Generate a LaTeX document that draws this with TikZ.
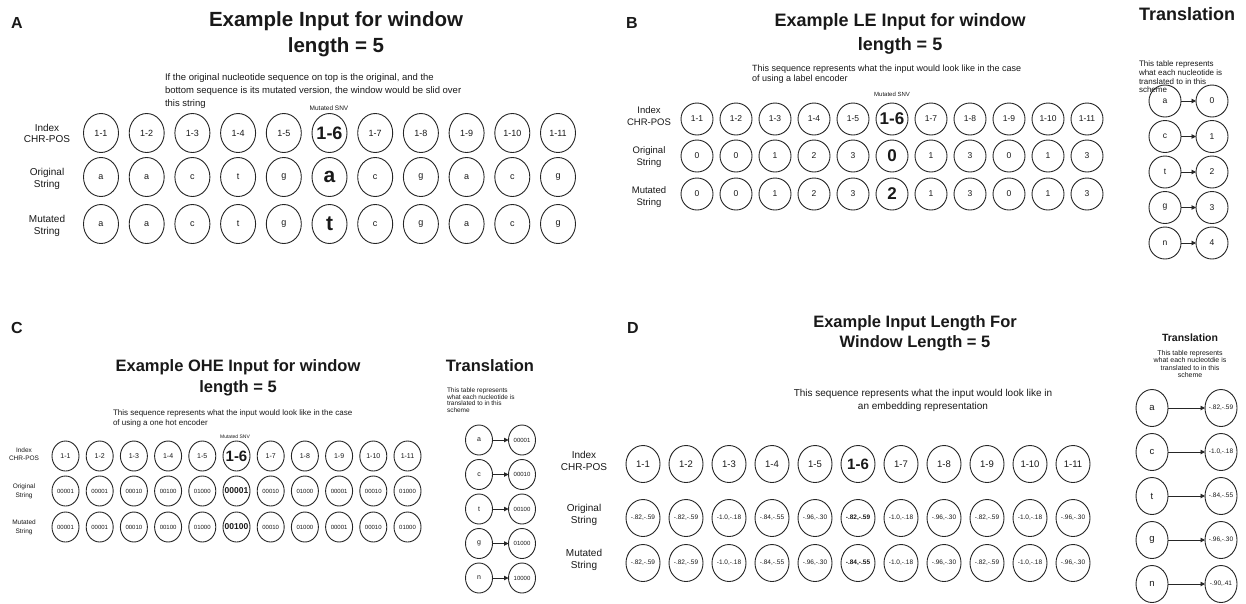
\documentclass[tikz,border=0pt]{standalone}
\usepackage{fontspec}
\setmainfont{Liberation Sans}
\usetikzlibrary{shapes.geometric,arrows.meta}
\newcommand\fsz[1]{\fontsize{#1}{#1}\selectfont}
\newcommand\bz[2]{{\bfseries\fsz{#1}#2}}
\begin{document}
\begin{tikzpicture}[x=1pt,y=-1pt,
  every node/.style={inner sep=0pt,outer sep=0pt,text=black!90},
  panel/.style={font=\bfseries\fsz{16},anchor=base},
  ttl/.style={anchor=base,font=\bfseries\fsz{#1}},
  txt/.style={anchor=base west,font=\fsz{#1}},
  ctxt/.style={anchor=base,font=\fsz{#1}},
  cell/.style={ellipse,draw=black!85,line width=0.9pt},
  cA/.style={cell,minimum width=35pt,minimum height=39pt,font=\fsz{9}},
  cB/.style={cell,minimum width=32pt,minimum height=32pt,font=\fsz{8.5}},
  cC/.style={cell,minimum width=27pt,minimum height=30pt,font=\fsz{6}},
  cCi/.style={cell,minimum width=27pt,minimum height=30pt,font=\fsz{7}},
  cD/.style={cell,minimum width=34pt,minimum height=37pt,font=\fsz{9.5}},
  cDv/.style={cell,minimum width=34pt,minimum height=37pt,font=\fsz{6.5}},
  tD/.style={cell,minimum width=32pt,minimum height=37pt,font=\fsz{9.5}},
  tDv/.style={cell,minimum width=32pt,minimum height=37pt,font=\fsz{6.5}},
  arr/.style={draw=black!85,line width=0.9pt,-{Triangle[length=4.5pt,width=4.5pt]}},
]
\useasboundingbox (0,0) rectangle (1246,603);
\fill[white] (0,0) rectangle (1246,603);

% ---------------- Panel A ----------------
\node[panel] (lblA) at (17,28) {A};
\node[ttl=20.5] (tA1) at (336,26) {Example Input for window};
\node[ttl=20.5] (tA2) at (336,52) {length = 5};
\node[txt=9.5] (dA1) at (165,80) {If the original nucleotide sequence on top is the original, and the};
\node[txt=9.5] (dA2) at (165,93) {bottom sequence is its mutated version, the window would be slid over};
\node[txt=9.5] (dA3) at (165,106) {this string};
\node[ctxt=6.5] (sA) at (329,110.5) {Mutated SNV};
\node[ctxt=10] (rA1a) at (47,131) {Index};
\node[ctxt=10] (rA1b) at (47,142.5) {CHR-POS};
\node[ctxt=10] (rA2a) at (47,175.5) {Original};
\node[ctxt=10] (rA2b) at (47,187) {String};
\node[ctxt=10] (rA3a) at (47,222.5) {Mutated};
\node[ctxt=10] (rA3b) at (47,234) {String};
\foreach \t [count=\k] in {1-1,1-2,1-3,1-4,1-5,\bz{18}{1-6},1-7,1-8,1-9,1-10,1-11}
  \node[cA] (Ai\k) at ({101+45.7*(\k-1)},133) {\makebox[0pt]{\t}};
\foreach \t [count=\k] in {a,a,c,t,g,\bz{21}{a},c,g,a,c,g}
  \node[cA] (Ao\k) at ({101+45.7*(\k-1)},177) {\makebox[0pt]{\t}};
\foreach \t [count=\k] in {a,a,c,t,g,\bz{21}{t},c,g,a,c,g}
  \node[cA] (Am\k) at ({101+45.7*(\k-1)},224) {\makebox[0pt]{\t}};

% ---------------- Panel B ----------------
\node[panel] (lblB) at (632,28) {B};
\node[ttl=18] (tB1) at (900,26) {Example LE Input for window};
\node[ttl=18] (tB2) at (900,50) {length = 5};
\node[txt=9] (dB1) at (752,71) {This sequence represents what the input would look like in the case};
\node[txt=9] (dB2) at (752,81.5) {of using a label encoder};
\node[ctxt=6] (sB) at (892,96.5) {Mutated SNV};
\node[ctxt=9.5] (rB1a) at (649,113.5) {Index};
\node[ctxt=9.5] (rB1b) at (649,125.5) {CHR-POS};
\node[ctxt=9.5] (rB2a) at (649,153.5) {Original};
\node[ctxt=9.5] (rB2b) at (649,165.5) {String};
\node[ctxt=9.5] (rB3a) at (649,193.5) {Mutated};
\node[ctxt=9.5] (rB3b) at (649,205.5) {String};
\foreach \t [count=\k] in {1-1,1-2,1-3,1-4,1-5,\bz{17}{1-6},1-7,1-8,1-9,1-10,1-11}
  \node[cB] (Bi\k) at ({697+39*(\k-1)},119) {\makebox[0pt]{\t}};
\foreach \t [count=\k] in {0,0,1,2,3,\bz{17}{0},1,3,0,1,3}
  \node[cB] (Bo\k) at ({697+39*(\k-1)},156) {\makebox[0pt]{\t}};
\foreach \t [count=\k] in {0,0,1,2,3,\bz{17}{2},1,3,0,1,3}
  \node[cB] (Bm\k) at ({697+39*(\k-1)},194) {\makebox[0pt]{\t}};
\node[ttl=18] (trB) at (1187,20) {Translation};
\node[txt=8] (tdB1) at (1139,66) {This table represents};
\node[txt=8] (tdB2) at (1139,75) {what each nucleotide is};
\node[txt=8] (tdB3) at (1139,84) {translated to in this};
\node[txt=8] (tdB4) at (1139,92.5) {scheme};
\foreach \a/\b [count=\k] in {a/0,c/1,t/2,g/3,n/4}{
  \node[cB] (BLa\k) at (1165,{101+35.5*(\k-1)}) {\makebox[0pt]{\a}};
  \node[cB] (BLb\k) at (1212,{101+35.5*(\k-1)}) {\makebox[0pt]{\b}};
  \draw[arr] (BLa\k) -- (BLb\k);
}

% ---------------- Panel C ----------------
\node[panel] (lblC) at (17,333) {C};
\node[ttl=16.5] (tC1) at (238,371) {Example OHE Input for window};
\node[ttl=16.5] (tC2) at (238,392) {length = 5};
\node[txt=8] (dC1) at (113,415) {This sequence represents what the input would look like in the case};
\node[txt=8] (dC2) at (113,425.5) {of using a one hot encoder};
\node[ctxt=5] (sC) at (235,438.5) {Mutated SNV};
\node[ctxt=6.5] (rC1a) at (24,452) {Index};
\node[ctxt=6.5] (rC1b) at (24,460.5) {CHR-POS};
\node[ctxt=6.5] (rC2a) at (24,488.5) {Original};
\node[ctxt=6.5] (rC2b) at (24,497.5) {String};
\node[ctxt=6.5] (rC3a) at (24,524.5) {Mutated};
\node[ctxt=6.5] (rC3b) at (24,533.5) {String};
\foreach \t [count=\k] in {1-1,1-2,1-3,1-4,1-5,\bz{15}{1-6},1-7,1-8,1-9,1-10,1-11}
  \node[cCi] (Ci\k) at ({65.5+34.2*(\k-1)},456) {\makebox[0pt]{\t}};
\foreach \t [count=\k] in {00001,00001,00010,00100,01000,\bz{8.5}{00001},00010,01000,00001,00010,01000}
  \node[cC] (Co\k) at ({65.5+34.2*(\k-1)},491) {\makebox[0pt]{\t}};
\foreach \t [count=\k] in {00001,00001,00010,00100,01000,\bz{8.5}{00100},00010,01000,00001,00010,01000}
  \node[cC] (Cm\k) at ({65.5+34.2*(\k-1)},527) {\makebox[0pt]{\t}};
\node[ttl=16.5] (trC) at (490,371) {Translation};
\node[txt=6.5] (tdC1) at (447,392) {This table represents};
\node[txt=6.5] (tdC2) at (447,399) {what each nucleotide is};
\node[txt=6.5] (tdC3) at (447,405.5) {translated to in this};
\node[txt=6.5] (tdC4) at (447,412) {scheme};
\foreach \a/\b [count=\k] in {a/00001,c/00010,t/00100,g/01000,n/10000}{
  \node[cCi] (CLa\k) at (479,{440+34.5*(\k-1)}) {\makebox[0pt]{\a}};
  \node[cC] (CLb\k) at (522,{440+34.5*(\k-1)}) {\makebox[0pt]{\b}};
  \draw[arr] (CLa\k) -- (CLb\k);
}

% ---------------- Panel D ----------------
\node[panel] (lblD) at (633,333) {D};
\node[ttl=16.5] (tD1) at (915,327) {Example Input Length For};
\node[ttl=16.5] (tD2) at (915,347) {Window Length = 5};
\node[ctxt=10] (dD1) at (923,396) {This sequence represents what the input would look like in};
\node[ctxt=10] (dD2) at (923,409) {an embedding representation};
\node[ctxt=10] (rD1a) at (584,458.5) {Index};
\node[ctxt=10] (rD1b) at (584,470.5) {CHR-POS};
\node[ctxt=10] (rD2a) at (584,511.5) {Original};
\node[ctxt=10] (rD2b) at (584,523.5) {String};
\node[ctxt=10] (rD3a) at (584,556.5) {Mutated};
\node[ctxt=10] (rD3b) at (584,568.5) {String};
\foreach \t [count=\k] in {1-1,1-2,1-3,1-4,1-5,\bz{15}{1-6},1-7,1-8,1-9,1-10,1-11}
  \node[cD] (Di\k) at ({643+43*(\k-1)},464) {\makebox[0pt]{\t}};
\foreach \t [count=\k] in {{-.82,-.59},{-.82,-.59},{-1.0,-.18},{-.84,-.55},{-.96,-.30},{\bfseries -.82,-.59},{-1.0,-.18},{-.96,-.30},{-.82,-.59},{-1.0,-.18},{-.96,-.30}}
  \node[cDv] (Do\k) at ({643+43*(\k-1)},518) {\makebox[0pt]{\t}};
\foreach \t [count=\k] in {{-.82,-.59},{-.82,-.59},{-1.0,-.18},{-.84,-.55},{-.96,-.30},{\bfseries -.84,-.55},{-1.0,-.18},{-.96,-.30},{-.82,-.59},{-1.0,-.18},{-.96,-.30}}
  \node[cDv] (Dm\k) at ({643+43*(\k-1)},563) {\makebox[0pt]{\t}};
\node[ttl=10.5] (trD) at (1190,341) {Translation};
\node[ctxt=7] (tdD1) at (1190,355) {This table represents};
\node[ctxt=7] (tdD2) at (1190,362.5) {what each nucleotdie is};
\node[ctxt=7] (tdD3) at (1190,370) {translated to in this};
\node[ctxt=7] (tdD4) at (1190,377.5) {scheme};
\foreach \a/\b [count=\k] in {a/{-.82,-.59},c/{-1.0,-.18},t/{-.84,-.55},g/{-.96,-.30},n/{-.90,.41}}{
  \node[tD] (DLa\k) at (1152,{408+44*(\k-1)}) {\makebox[0pt]{\a}};
  \node[tDv] (DLb\k) at (1221,{408+44*(\k-1)}) {\makebox[0pt]{\b}};
  \draw[arr] (DLa\k) -- (DLb\k);
}
\end{tikzpicture}
\end{document}
